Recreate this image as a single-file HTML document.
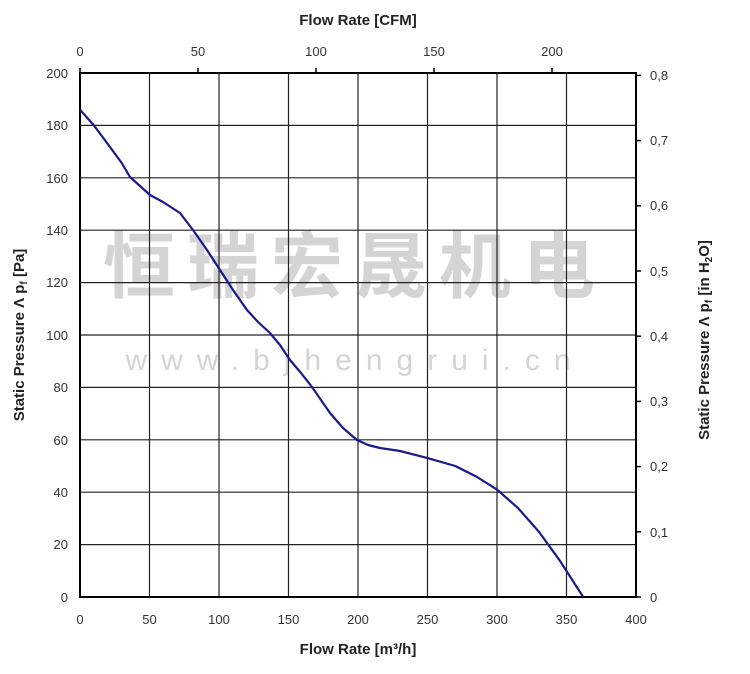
<!DOCTYPE html>
<html><head><style>body{margin:0;background:#fff}</style></head><body>
<svg width="750" height="669" xmlns="http://www.w3.org/2000/svg" font-family="Liberation Sans, Arial, sans-serif">
<rect width="750" height="669" fill="#fff"/>
<g fill="#d4d4d4" text-anchor="middle">
<text x="355" y="292" font-size="72" font-weight="bold" font-family="Liberation Sans, Noto Sans CJK SC, sans-serif" letter-spacing="12">恒瑞宏晟机电</text>
<text x="355" y="370" font-size="30" letter-spacing="14">www.bjhengrui.cn</text>
</g>
<g stroke="#222" stroke-width="1.2">
<line x1="149.5" y1="73" x2="149.5" y2="597"/><line x1="219" y1="73" x2="219" y2="597"/>
<line x1="288.5" y1="73" x2="288.5" y2="597"/><line x1="358" y1="73" x2="358" y2="597"/>
<line x1="427.5" y1="73" x2="427.5" y2="597"/><line x1="497" y1="73" x2="497" y2="597"/>
<line x1="566.5" y1="73" x2="566.5" y2="597"/>
<line x1="80" y1="125.4" x2="636" y2="125.4"/><line x1="80" y1="177.8" x2="636" y2="177.8"/>
<line x1="80" y1="230.2" x2="636" y2="230.2"/><line x1="80" y1="282.6" x2="636" y2="282.6"/>
<line x1="80" y1="335" x2="636" y2="335"/><line x1="80" y1="387.4" x2="636" y2="387.4"/>
<line x1="80" y1="439.8" x2="636" y2="439.8"/><line x1="80" y1="492.2" x2="636" y2="492.2"/>
<line x1="80" y1="544.6" x2="636" y2="544.6"/>
</g>
<rect x="80" y="73" width="556" height="524" fill="none" stroke="#000" stroke-width="2"/>
<polyline fill="none" stroke="#1a1a8c" stroke-width="2.2" stroke-linejoin="round" points="80,109.7 93.9,125.4 107.8,144 121.7,163 130,177 150,195 163,202 180,213 193,230 207,250 220,270 233,290 247,310 258,322 270,333 280,345 290,360 301,373 312,387 321,400 330,413 343,428 357,440 368,445 380,448 400,451 427.5,458.1 455.3,466 476.2,476.5 497,489.6 517.9,507.9 538.7,531.5 559.6,560.3 583.2,597"/>
<g stroke="#000" stroke-width="1.5">
<line x1="80" y1="73" x2="80" y2="68"/><line x1="198" y1="73" x2="198" y2="68"/><line x1="316" y1="73" x2="316" y2="68"/><line x1="434" y1="73" x2="434" y2="68"/><line x1="552" y1="73" x2="552" y2="68"/>
<line x1="636" y1="597" x2="641" y2="597"/><line x1="636" y1="531.8" x2="641" y2="531.8"/><line x1="636" y1="466.6" x2="641" y2="466.6"/><line x1="636" y1="401.4" x2="641" y2="401.4"/><line x1="636" y1="336.2" x2="641" y2="336.2"/><line x1="636" y1="271" x2="641" y2="271"/><line x1="636" y1="205.8" x2="641" y2="205.8"/><line x1="636" y1="140.6" x2="641" y2="140.6"/><line x1="636" y1="75.4" x2="641" y2="75.4"/>
</g>
<g font-size="13" fill="#333" text-anchor="end">
<text x="68" y="78">200</text><text x="68" y="130">180</text><text x="68" y="183">160</text><text x="68" y="235">140</text><text x="68" y="287">120</text><text x="68" y="340">100</text><text x="68" y="392">80</text><text x="68" y="445">60</text><text x="68" y="497">40</text><text x="68" y="549">20</text><text x="68" y="602">0</text>
</g>
<g font-size="13" fill="#333">
<text x="650" y="602">0</text><text x="650" y="537">0,1</text><text x="650" y="471">0,2</text><text x="650" y="406">0,3</text><text x="650" y="341">0,4</text><text x="650" y="276">0,5</text><text x="650" y="210">0,6</text><text x="650" y="145">0,7</text><text x="650" y="80">0,8</text>
</g>
<g font-size="13" fill="#333" text-anchor="middle">
<text x="80" y="624">0</text><text x="149.5" y="624">50</text><text x="219" y="624">100</text><text x="288.5" y="624">150</text><text x="358" y="624">200</text><text x="427.5" y="624">250</text><text x="497" y="624">300</text><text x="566.5" y="624">350</text><text x="636" y="624">400</text>
<text x="80" y="56">0</text><text x="198" y="56">50</text><text x="316" y="56">100</text><text x="434" y="56">150</text><text x="552" y="56">200</text>
</g>
<g font-size="15" font-weight="bold" fill="#222" text-anchor="middle">
<text x="358" y="25">Flow Rate [CFM]</text>
<text x="358" y="654">Flow Rate [m³/h]</text>
<text transform="translate(24,335) rotate(-90)">Static Pressure Λ p<tspan font-size="10" dy="3">f</tspan><tspan dy="-3"> [Pa]</tspan></text>
<text transform="translate(709,340) rotate(-90)">Static Pressure Λ p<tspan font-size="10" dy="3">f</tspan><tspan dy="-3"> [in H</tspan><tspan font-size="10" dy="3">2</tspan><tspan dy="-3">O]</tspan></text>
</g>
</svg>
</body></html>
